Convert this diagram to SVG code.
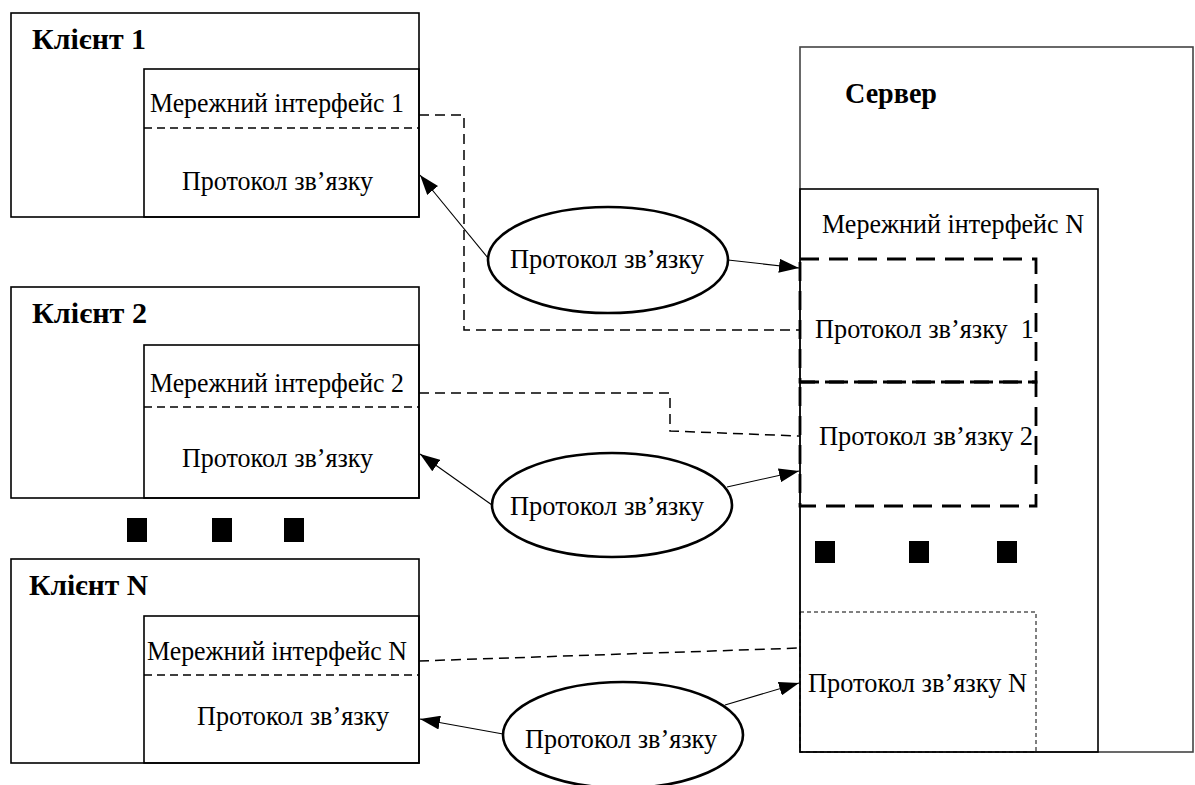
<svg xmlns="http://www.w3.org/2000/svg" width="1195" height="785" viewBox="0 0 1195 785">
  <style>
    .box { fill: none; stroke: #000; stroke-width: 1.6; }
    .srv { fill: none; stroke: #444; stroke-width: 1.6; }
    .div { fill: none; stroke: #000; stroke-width: 1.6; stroke-dasharray: 8 5; }
    .link { fill: none; stroke: #000; stroke-width: 1.5; stroke-dasharray: 10 6; }
    .thick { fill: none; stroke: #000; stroke-width: 2.8; stroke-dasharray: 19 10; }
    .dot { fill: none; stroke: #000; stroke-width: 1; stroke-dasharray: 4 3; }
    .oval { fill: #fff; stroke: #000; stroke-width: 2.6; }
    .arr { fill: none; stroke: #000; stroke-width: 1.1; marker-end: url(#head); }
    .t { font-family: "Liberation Serif", "Times New Roman", serif; font-size: 27px; fill: #000; white-space: pre; }
    .h { font-family: "Liberation Serif", "Times New Roman", serif; font-size: 30px; font-weight: bold; fill: #000; }
    .sq { fill: #000; }
  </style>
  <defs>
    <marker id="head" markerUnits="userSpaceOnUse" markerWidth="22" markerHeight="14" refX="20" refY="7" orient="auto">
      <path d="M0,0 L20,7 L0,14 Z" fill="#000"/>
    </marker>
  </defs>
  <rect width="1195" height="785" fill="#fff"/>

  <!-- Server -->
  <g id="server">
    <rect class="srv" x="800" y="47" width="393" height="705"/>
    <text class="h" x="845" y="103" textLength="92" lengthAdjust="spacingAndGlyphs">Сервер</text>
    <rect class="box" x="800" y="189" width="298" height="563"/>
    <text class="t" x="822" y="233" textLength="262" lengthAdjust="spacingAndGlyphs">Мережний інтерфейс N</text>
    <rect class="thick" x="800" y="259" width="236" height="123"/>
    <rect class="thick" x="800" y="382" width="236" height="124"/>
    <text class="t" x="815" y="338" xml:space="preserve" textLength="219" lengthAdjust="spacingAndGlyphs">Протокол зв’язку  1</text>
    <text class="t" x="819" y="445" textLength="214" lengthAdjust="spacingAndGlyphs">Протокол зв’язку 2</text>
    <rect class="sq" x="815" y="541" width="20" height="22"/>
    <rect class="sq" x="909" y="541" width="20" height="22"/>
    <rect class="sq" x="997" y="541" width="20" height="22"/>
    <rect class="dot" x="800" y="612" width="236" height="140"/>
    <text class="t" x="808" y="692" textLength="219" lengthAdjust="spacingAndGlyphs">Протокол зв’язку N</text>
  </g>

  <!-- Client 1 -->
  <g id="client1">
    <rect class="box" x="11" y="13" width="408" height="204"/>
    <text class="h" x="32" y="49" textLength="114" lengthAdjust="spacingAndGlyphs">Клієнт 1</text>
    <rect class="box" x="144" y="69" width="275" height="148"/>
    <line class="div" x1="144" y1="128" x2="419" y2="128"/>
    <text class="t" x="150" y="112" textLength="254" lengthAdjust="spacingAndGlyphs">Мережний інтерфейс 1</text>
    <text class="t" x="182" y="190" textLength="191" lengthAdjust="spacingAndGlyphs">Протокол зв’язку</text>
  </g>

  <!-- Client 2 -->
  <g id="client2">
    <rect class="box" x="11" y="287" width="408" height="211"/>
    <text class="h" x="32" y="323" textLength="115" lengthAdjust="spacingAndGlyphs">Клієнт 2</text>
    <rect class="box" x="144" y="345" width="275" height="153"/>
    <line class="div" x1="144" y1="407" x2="419" y2="407"/>
    <text class="t" x="150" y="392" textLength="254" lengthAdjust="spacingAndGlyphs">Мережний інтерфейс 2</text>
    <text class="t" x="182" y="467" textLength="191" lengthAdjust="spacingAndGlyphs">Протокол зв’язку</text>
  </g>

  <!-- Ellipsis between clients -->
  <g id="more-clients">
    <rect class="sq" x="127" y="518" width="20" height="24"/>
    <rect class="sq" x="212" y="518" width="20" height="24"/>
    <rect class="sq" x="284" y="518" width="20" height="24"/>
  </g>

  <!-- Client N -->
  <g id="clientN">
    <rect class="box" x="11" y="559" width="408" height="204"/>
    <text class="h" x="29" y="595" textLength="119" lengthAdjust="spacingAndGlyphs">Клієнт N</text>
    <rect class="box" x="144" y="616" width="275" height="147"/>
    <line class="div" x1="144" y1="675" x2="419" y2="675"/>
    <text class="t" x="147" y="660" textLength="260" lengthAdjust="spacingAndGlyphs">Мережний інтерфейс N</text>
    <text class="t" x="197" y="725" textLength="192" lengthAdjust="spacingAndGlyphs">Протокол зв’язку</text>
  </g>

  <!-- Connectors -->
  <g id="connectors">
    <polyline class="link" points="419,115 464,115 464,330 800,330"/>
    <polyline class="link" points="419,393 670,393 670,431 800,436"/>
    <line class="link" x1="419" y1="661" x2="800" y2="648"/>

    <line class="arr" x1="488" y1="258" x2="420" y2="175"/>
    <line class="arr" x1="728" y1="260" x2="799" y2="268"/>
    <line class="arr" x1="492" y1="505" x2="420" y2="454"/>
    <line class="arr" x1="727" y1="487" x2="799" y2="471"/>
    <line class="arr" x1="503" y1="734" x2="420" y2="719"/>
    <line class="arr" x1="725" y1="705" x2="799" y2="683"/>
  </g>

  <!-- Protocol links -->
  <g id="link1">
    <ellipse class="oval" cx="608" cy="260" rx="120" ry="53"/>
    <text class="t" x="510" y="268" textLength="194" lengthAdjust="spacingAndGlyphs">Протокол зв’язку</text>
  </g>
  <g id="link2">
    <ellipse class="oval" cx="612" cy="505" rx="120" ry="52"/>
    <text class="t" x="510" y="515" textLength="194" lengthAdjust="spacingAndGlyphs">Протокол зв’язку</text>
  </g>
  <g id="linkN">
    <ellipse class="oval" cx="623" cy="735" rx="120" ry="53"/>
    <text class="t" x="525" y="748" textLength="192" lengthAdjust="spacingAndGlyphs">Протокол зв’язку</text>
  </g>
</svg>
